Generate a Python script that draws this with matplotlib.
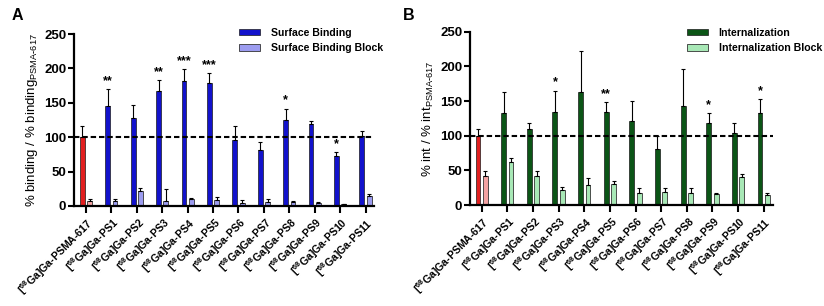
import matplotlib.pyplot as plt
import numpy as np

plt.rcParams['font.family'] = ['Liberation Sans', 'DejaVu Sans']
plt.rcParams['font.weight'] = 'bold'
plt.rcParams['mathtext.fontset'] = 'custom'
plt.rcParams['mathtext.rm'] = 'Liberation Sans:bold'
plt.rcParams['mathtext.it'] = 'Liberation Sans:bold'
plt.rcParams['mathtext.bf'] = 'Liberation Sans:bold'
plt.rcParams['mathtext.default'] = 'rm'

compounds = ['PSMA-617'] + ['PS%d' % i for i in range(1, 12)]
tick_labels = [r'[$^{68}$Ga]Ga-' + c for c in compounds]

# panel A: surface binding (mean, upper error) and block
bind = [100, 145.8, 127.4, 167.6, 181, 178.8, 96, 81, 125.5, 118.7, 72.7, 102.2]
bind_err = [16.3, 23.8, 18.9, 15.4, 17.6, 14.2, 20, 11.5, 16, 4.3, 5.8, 6.3]
bind_blk = [7.3, 7.8, 21.8, 7.3, 9.7, 8.7, 5, 6, 6.3, 4.4, 2.4, 15]
bind_blk_err = [2.4, 1.9, 4.2, 16.7, 1.3, 4.9, 3, 3.7, 1.5, 0.9, 0.5, 2]
bind_stars = ['', '**', '', '**', '***', '***', '', '', '*', '', '*', '']

# panel B: internalization (mean, upper error) and block
intern = [100, 132.7, 110, 134.6, 163, 133.7, 120.7, 80.8, 142.3, 118.3, 103.4, 133]
intern_err = [10, 30.8, 8.8, 30.4, 60, 14.3, 28.8, 18.2, 54.3, 13.9, 15.6, 19.4]
intern_blk = [41.3, 62, 41.3, 21.6, 29.3, 30.3, 17.8, 18.3, 17.8, 16.3, 40.4, 14.9]
intern_blk_err = [7.7, 5.3, 8.2, 4.8, 9.7, 4.7, 7.2, 5.7, 6.7, 0.5, 4.3, 1.9]
intern_stars = ['', '', '', '*', '', '**', '', '', '', '*', '', '*']

fig = plt.figure(figsize=(8.24, 3.06), dpi=100)
axA = fig.add_axes([0.0898, 0.3268, 0.364, 0.562])
axB = fig.add_axes([0.5704, 0.330, 0.3677, 0.566])


def draw_panel(ax, vals, errs, blk, blk_err, stars, main_col, blk_col,
               labels, ylabel, xlim):
    x = np.arange(len(vals))
    w = 0.19
    off = 0.145
    main_colors = ['#E21F1F'] + [main_col] * (len(vals) - 1)
    blk_colors = ['#F4A3A3'] + [blk_col] * (len(vals) - 1)
    ekw = dict(elinewidth=0.8, capthick=0.8, capsize=1.5, ecolor='black')
    ax.bar(x - off, vals, w, color=main_colors, edgecolor='#1a1a1a', linewidth=0.5,
           yerr=[np.zeros(len(vals)), errs], error_kw=ekw, zorder=2)
    ax.bar(x + off, blk, w, color=blk_colors, edgecolor='#333333', linewidth=0.6,
           yerr=[np.zeros(len(blk)), blk_err], error_kw=ekw, zorder=2)
    h1 = plt.Rectangle((0, 0), 1, 1, facecolor=main_col, edgecolor='#1a1a1a', linewidth=0.5)
    h2 = plt.Rectangle((0, 0), 1, 1, facecolor=blk_col, edgecolor='#333333', linewidth=0.6)
    for xi, v, e, s in zip(x, vals, errs, stars):
        if s:
            ax.text(xi - off, v + e + 3, s, ha='center', va='bottom', fontsize=9)
    ax.axhline(100, color='black', linewidth=1.5, linestyle=(0, (2.6, 1.4)), zorder=3)
    ax.set_ylim(0, 250)
    ax.set_xlim(*xlim)
    ax.set_yticks([0, 50, 100, 150, 200, 250])
    ax.set_xticks(x)
    ax.set_xticklabels(labels, rotation=45, ha='right', rotation_mode='anchor', fontsize=7.6)
    ax.tick_params(axis='y', labelsize=9.5, width=1.5, length=4, pad=1.5)
    ax.tick_params(axis='x', width=1.5, length=5, pad=2)
    for sp in ['top', 'right']:
        ax.spines[sp].set_visible(False)
    for sp in ['left', 'bottom']:
        ax.spines[sp].set_linewidth(1.6)
    ax.set_ylabel(ylabel, fontsize=9.5, labelpad=3)
    return h1, h2


hA = draw_panel(axA, bind, bind_err, bind_blk, bind_blk_err, bind_stars,
                '#1212CC', '#9C9CF0', tick_labels,
                r'% binding / % binding$_{\mathregular{PSMA\text{-}617}}$',
                (-0.47, 11.33))
axA.legend(hA, ['Surface Binding', 'Surface Binding Block'], loc='upper left',
           bbox_to_anchor=(239 / 824, 1 - 28 / 306), bbox_transform=fig.transFigure,
           frameon=False, fontsize=7.6, handlelength=2.0, handleheight=0.55,
           handletextpad=1.0, labelspacing=0.5, borderpad=0, borderaxespad=0)

hB = draw_panel(axB, intern, intern_err, intern_blk, intern_blk_err, intern_stars,
                '#0B5516', '#A8E8B6', tick_labels,
                r'% int / % int$_{\mathregular{PSMA\text{-}617}}$',
                (-0.456, 11.36))
axB.legend(hB, ['Internalization', 'Internalization Block'], loc='upper left',
           bbox_to_anchor=(687 / 824, 1 - 28 / 306), bbox_transform=fig.transFigure,
           frameon=False, fontsize=7.6, handlelength=2.0, handleheight=0.55,
           handletextpad=1.0, labelspacing=0.5, borderpad=0, borderaxespad=0)

fig.text(12 / 824, 1 - 16 / 306, 'A', fontsize=11.5, va='center', ha='left')
fig.text(403 / 824, 1 - 16 / 306, 'B', fontsize=11.5, va='center', ha='left')

fig.savefig('out.png', dpi=100)
